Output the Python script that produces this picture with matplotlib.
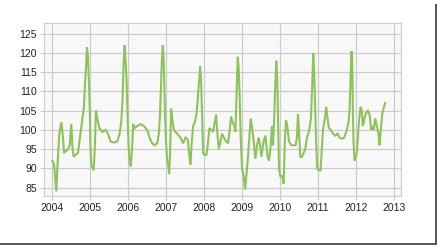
import numpy as np
import matplotlib.pyplot as plt
from matplotlib.patches import Rectangle

# time as years since start of 2004
t_off = [0.000, 0.044, 0.070, 0.105, 0.132, 0.158, 0.184, 0.237, 0.281, 0.307,
         0.360, 0.412, 0.456, 0.500, 0.526, 0.561, 0.614, 0.675, 0.728, 0.781,
         0.833, 0.860, 0.886, 0.912, 0.939, 0.965, 0.991, 1.000, 1.026, 1.088,
         1.123, 1.149, 1.184, 1.237, 1.316, 1.404, 1.465, 1.535, 1.623, 1.711,
         1.772, 1.816, 1.851, 1.877, 1.904, 1.930, 1.956, 1.982, 2.009, 2.044,
         2.070, 2.105, 2.132, 2.175, 2.237, 2.325, 2.412, 2.500, 2.561, 2.632,
         2.693, 2.763, 2.807, 2.833, 2.860, 2.886, 2.912, 2.939, 2.965, 2.991,
         3.026, 3.053, 3.079, 3.105, 3.132, 3.158, 3.202, 3.289, 3.377, 3.447,
         3.509, 3.570, 3.605, 3.640, 3.675, 3.711, 3.754, 3.798, 3.833, 3.868,
         3.895, 3.921, 3.947, 3.974, 4.009, 4.061, 4.096, 4.140, 4.184, 4.237,
         4.281, 4.316, 4.342, 4.386, 4.430, 4.474, 4.518, 4.579, 4.632, 4.675,
         4.711, 4.754, 4.798, 4.825, 4.851, 4.886, 4.912, 4.939, 4.965, 5.000,
         5.044, 5.079, 5.114, 5.149, 5.193, 5.228, 5.272, 5.307, 5.351, 5.395,
         5.439, 5.474, 5.509, 5.570, 5.614, 5.640, 5.675, 5.711, 5.746, 5.789,
         5.816, 5.851, 5.877, 5.904, 5.930, 5.956, 5.974, 6.009, 6.053, 6.096,
         6.132, 6.158, 6.193, 6.237, 6.298, 6.360, 6.412, 6.447, 6.474, 6.500,
         6.535, 6.579, 6.623, 6.667, 6.711, 6.772, 6.816, 6.851, 6.877, 6.904,
         6.930, 6.956, 6.982, 7.018, 7.070, 7.096, 7.132, 7.184, 7.219, 7.254,
         7.289, 7.342, 7.395, 7.456, 7.518, 7.570, 7.632, 7.693, 7.763, 7.807,
         7.833, 7.851, 7.868, 7.886, 7.904, 7.921, 7.939, 7.965, 8.000, 8.026,
         8.053, 8.088, 8.123, 8.158, 8.184, 8.228, 8.272, 8.316, 8.360, 8.404,
         8.439, 8.474, 8.509, 8.553, 8.596, 8.623, 8.658, 8.693, 8.728, 8.772]

values = [92, 91, 88, 84, 90, 95, 99, 102, 98, 94,
          94.5, 95, 96, 101.5, 96, 93, 93.5, 94, 98, 102,
          106, 112, 116, 121.5, 119, 112, 104, 97, 91, 89.5,
          96, 105, 103, 100.5, 99.5, 100, 99, 97, 96.7, 97,
          99, 102, 108, 117, 122, 118, 113, 104, 96, 91,
          90.5, 96, 101.5, 100.5, 101, 101.5, 101, 100, 98, 96.5,
          96, 96.5, 99, 103, 110, 118, 122, 117, 106, 98,
          92, 91, 88.5, 95, 105.5, 103, 100, 99, 98, 96.5,
          98, 97.5, 94, 91, 97, 101, 102, 104, 108, 113,
          116.5, 113, 104, 94, 93.5, 93.5, 96, 100.5, 100, 99.5,
          102, 104, 100, 95, 97, 99, 98, 97, 96.5, 100,
          103.5, 102, 101, 99.5, 108, 119, 116, 108, 98, 90,
          88, 84.5, 88, 92, 98, 103, 100, 97, 92.5, 96,
          98, 96, 93, 97, 98.5, 96, 93, 92, 95, 101,
          96, 104, 112, 118, 113, 100, 90, 88, 88, 86,
          98, 102.5, 101, 97, 96, 96, 96, 98, 104, 100,
          93, 93, 94, 95, 98, 100, 103, 112, 120, 114,
          105, 96, 90, 89.5, 89.5, 94, 100, 103, 106, 103,
          100.5, 100, 99, 98.5, 99, 98, 97.7, 98, 100, 102,
          105, 110, 116, 120.5, 118, 105, 97, 92, 93, 94,
          98, 103, 106, 105, 101, 103, 104.5, 105, 104, 100,
          101, 100, 103, 101, 99, 96, 100, 104, 105.5, 107]

years = np.array(t_off) + 2004
year_ticks = list(range(2004, 2014))
value_ticks = [85, 90, 95, 100, 105, 110, 115, 120, 125]

fig = plt.figure(figsize=(4.39, 2.47), dpi=100)
fig.patch.set_facecolor('white')
ax = fig.add_axes([44 / 439, 1 - 196 / 247, 357 / 439, 173 / 247])
ax.set_facecolor('#f8f8f8')

ax.plot(years, values, color='#8dc35b', lw=1.5, solid_joinstyle='miter')

ax.set_xlim(2003.78, 2013.19)
ax.set_ylim(82.8, 127.8)
ax.set_xticks(year_ticks)
ax.set_yticks(value_ticks)
ax.grid(True, color='#cccccc', lw=0.9)
ax.set_axisbelow(True)
for s in ax.spines.values():
    s.set_color('#d0d0d0')
    s.set_linewidth(0.9)
ax.tick_params(length=3, width=0.9, color='#cccccc', labelsize=7.5,
               labelcolor='#222222', pad=2)
for lab in ax.get_xticklabels() + ax.get_yticklabels():
    lab.set_family('Liberation Sans')

# shadow of the picture frame, right and bottom edges
fig.patches.append(Rectangle((435 / 439, 4 / 247), 2 / 439, 239 / 247,
                             transform=fig.transFigure, color='#5e5850', lw=0))
fig.patches.append(Rectangle((0, 2.5 / 247), 437 / 439, 2 / 247,
                             transform=fig.transFigure, color='#5e5850', lw=0))

fig.savefig('out.png', dpi=100)
